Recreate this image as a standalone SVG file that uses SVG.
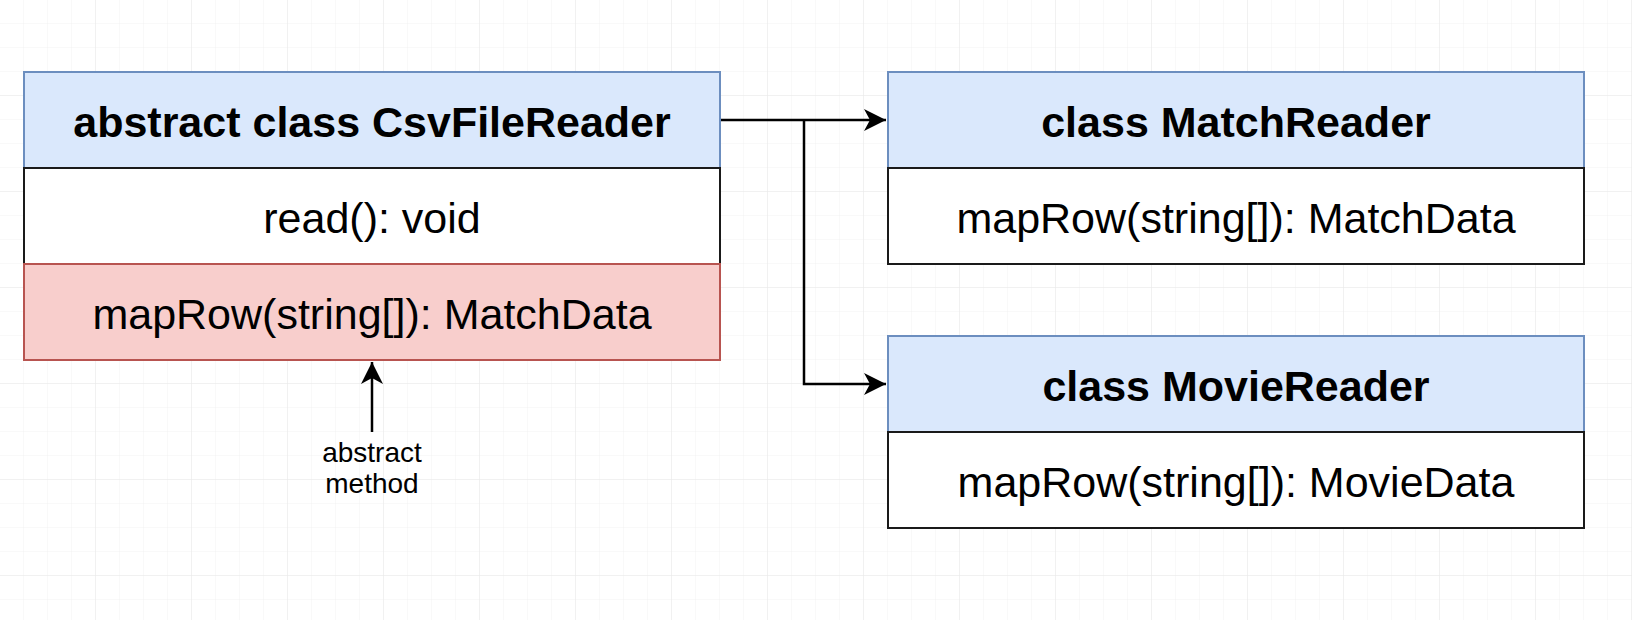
<svg xmlns="http://www.w3.org/2000/svg" width="1632" height="620" viewBox="0 0 1632 620">
  <defs>
    <pattern id="minor" width="24" height="24" patternUnits="userSpaceOnUse">
      <path d="M24 0 V24 M0 24 H24" fill="none" stroke="#f2f2f2" stroke-width="1"/>
    </pattern>
    <pattern id="major" width="96" height="96" patternUnits="userSpaceOnUse">
      <rect width="96" height="96" fill="url(#minor)"/>
      <path d="M96 0 V96 M0 96 H96" fill="none" stroke="#e9e9e9" stroke-width="1"/>
    </pattern>
    <marker id="arrow" markerUnits="userSpaceOnUse" markerWidth="24" markerHeight="24" refX="22" refY="11" orient="auto">
      <path d="M0,0 L22,11 L0,22 L6,11 Z" fill="#000"/>
    </marker>
    <style>
      .hdr { fill: #dae8fc; stroke: #6c8ebf; stroke-width: 2; }
      .row { fill: #ffffff; stroke: #1a1a1a; stroke-width: 2; }
      .abs { fill: #f8cecc; stroke: #b85450; stroke-width: 2; }
      .t { font-family: "Liberation Sans", Arial, sans-serif; font-size: 43px; fill: #000; text-anchor: middle; }
      .b { font-weight: bold; }
      .s { font-family: "Liberation Sans", Arial, sans-serif; font-size: 28px; fill: #000; text-anchor: middle; }
      .c { fill: none; stroke: #000; stroke-width: 2.5; }
    </style>
  </defs>
  <rect width="1632" height="620" fill="#ffffff"/>
  <rect width="1632" height="620" fill="url(#major)"/>

  <g id="csvfilereader">
    <rect class="hdr" x="24" y="72" width="696" height="96"/>
    <rect class="row" x="24" y="168" width="696" height="96"/>
    <rect class="abs" x="24" y="264" width="696" height="96"/>
    <text class="t b" x="372" y="136.5">abstract class CsvFileReader</text>
    <text class="t" x="372" y="232.5">read(): void</text>
    <text class="t" x="372" y="328.5">mapRow(string[]): MatchData</text>
  </g>

  <g id="matchreader">
    <rect class="hdr" x="888" y="72" width="696" height="96"/>
    <rect class="row" x="888" y="168" width="696" height="96"/>
    <text class="t b" x="1236" y="136.5">class MatchReader</text>
    <text class="t" x="1236" y="232.5">mapRow(string[]): MatchData</text>
  </g>

  <g id="moviereader">
    <rect class="hdr" x="888" y="336" width="696" height="96"/>
    <rect class="row" x="888" y="432" width="696" height="96"/>
    <text class="t b" x="1236" y="400.5">class MovieReader</text>
    <text class="t" x="1236" y="496.5">mapRow(string[]): MovieData</text>
  </g>

  <g id="abstract-note">
    <text class="s" x="372" y="462">abstract</text>
    <text class="s" x="372" y="493">method</text>
  </g>

  <g id="connectors">
    <path class="c" d="M721 120 H886" marker-end="url(#arrow)"/>
    <path class="c" d="M804 120 V384 H886" marker-end="url(#arrow)"/>
    <path class="c" d="M372 432 V362" marker-end="url(#arrow)"/>
  </g>
</svg>
